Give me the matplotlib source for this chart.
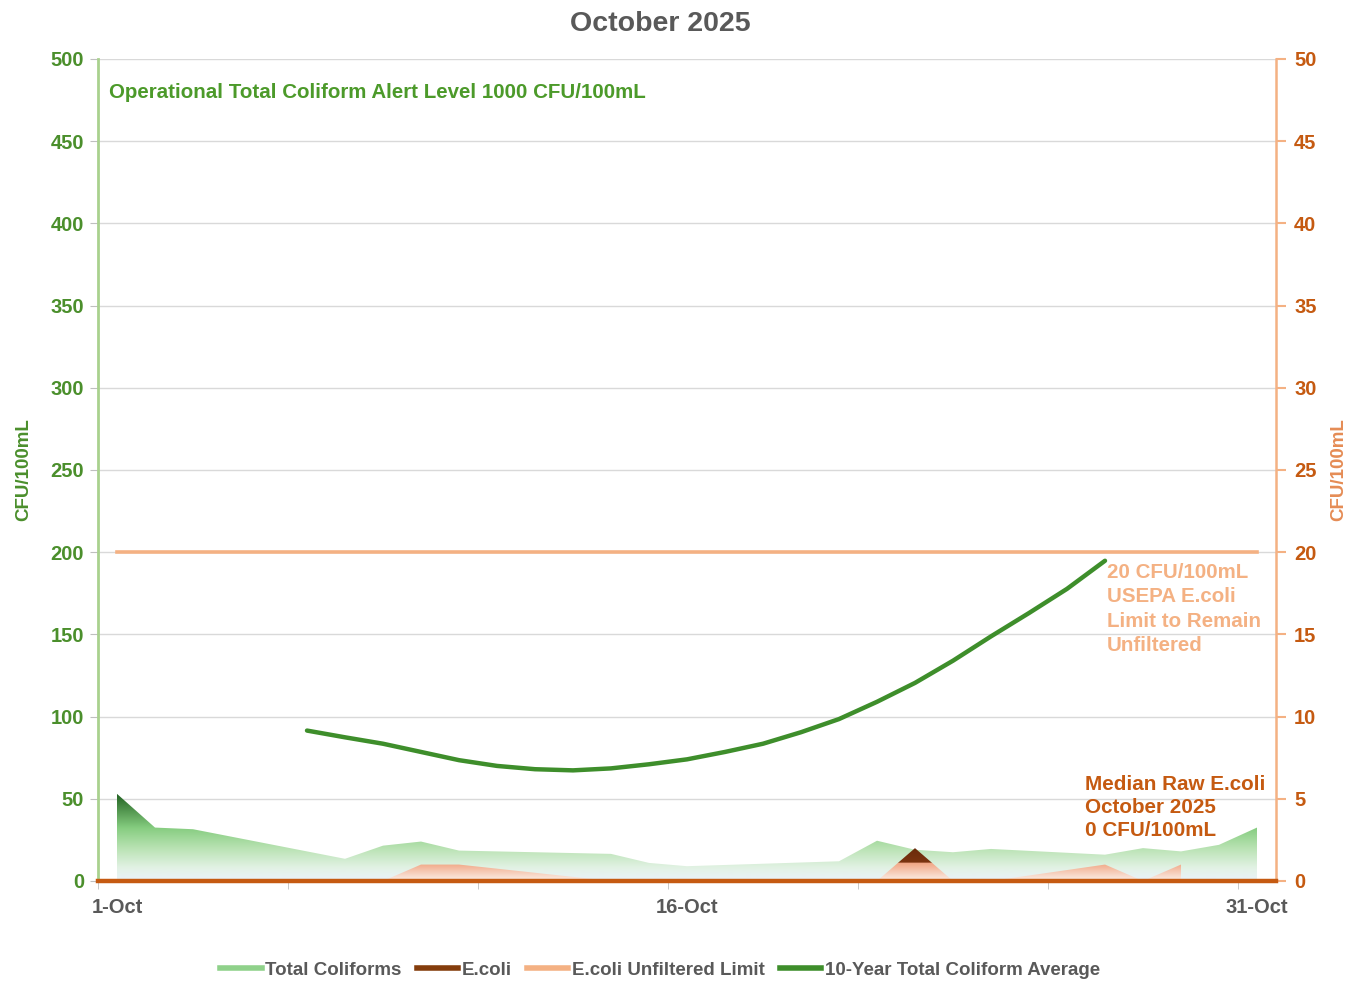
import numpy as np
import matplotlib
matplotlib.use("Agg")
import matplotlib.pyplot as plt
from matplotlib.colors import LinearSegmentedColormap
from matplotlib.path import Path
from matplotlib.lines import Line2D

plt.rcParams['font.family'] = ['Liberation Sans', 'DejaVu Sans']
plt.rcParams['font.weight'] = 'bold'
plt.rcParams['axes.labelweight'] = 'bold'

# Sample days (October 2025) and results
sample_days = [1, 2, 3, 7, 8, 9, 10, 14, 15, 16, 20, 21, 22, 23, 24, 27, 28, 29, 30, 31]
total_coliforms = [53, 32.5, 31.5, 13.5, 21.5, 24, 18.5, 16.5, 11, 9,
                   12, 24.5, 19, 17.5, 19.5, 16, 20, 18, 22, 32.5]
ecoli = [0, 0, 0, 0, 0, 1, 1, 0, 0, 0,
         0, 0, 2, 0, 0, 1, 0, 1, np.nan, np.nan]

# E.coli unfiltered limit (CFU/100mL)
limit_days = list(range(1, 32))
ecoli_limit = [20] * len(limit_days)

# 10-year total coliform average
avg_days = list(range(6, 28))
avg_10yr = [91.5, 87.4, 83.5, 78.5, 73.5, 70, 68, 67.3, 68.5, 71, 74,
            78.5, 83.5, 90.5, 98.5, 109, 120.5, 134, 148.8, 163, 177.7, 194.8]

x_tick_days = [1, 16, 31]
x_tick_labels = ['1-Oct', '16-Oct', '31-Oct']

GREEN_TXT = '#4b8f2c'
ORANGE_TXT = '#c55a11'
SALMON = '#f4b183'
GRAY = '#595959'


def gradient_area(ax, x, y, stops, top, z):
    coll = ax.fill_between(x, 0, y, facecolor='none', edgecolor='none')
    path = Path.make_compound_path(*coll.get_paths())
    cmap = LinearSegmentedColormap.from_list('grad', stops)
    grad = np.linspace(0, 1, 512).reshape(-1, 1)
    im = ax.imshow(grad, cmap=cmap, aspect='auto', origin='lower',
                   extent=[0.5, 31.5, 0, top], zorder=z, interpolation='bilinear')
    im.set_clip_path(path, transform=ax.transData)
    return im


fig = plt.figure(figsize=(13.57, 9.81), dpi=100)
ax = fig.add_axes([98 / 1357, 1 - 881 / 981, (1276 - 98) / 1357, (881 - 59) / 981])
ax2 = ax.twinx()

# total coliforms (left axis), gradient fill
tc_top = max(total_coliforms)
gradient_area(ax, sample_days, total_coliforms,
              [(0, '#eaf2fb'), (8 / tc_top, '#e2f2e4'), (20 / tc_top, '#b8e2b2'),
               (32 / tc_top, '#86cd80'), (1, '#1f5f1f')], tc_top, 2)

# 10-year average
ax.plot(avg_days, avg_10yr, color='#3e8e2b', lw=3.2, solid_capstyle='round', zorder=4)

# E.coli (right axis)
gradient_area(ax2, sample_days, ecoli,
              [(0, '#fbf1ea'), (0.5, '#f2ac8c'), (0.55, '#f0a586'),
               (0.56, '#7b3410'), (1, '#6a2b0b')], 2, 3)
ax2.plot(limit_days, ecoli_limit, color=SALMON, lw=2.6, zorder=4)

ax.set_xlim(0.5, 31.5)
ax.set_ylim(0, 500)
ax2.set_ylim(0, 50)
ax.set_yticks(np.arange(0, 501, 50))
ax2.set_yticks(np.arange(0, 51, 5))
ax.set_xticks(x_tick_days)
ax.set_xticklabels(x_tick_labels)
ax.set_xticks(np.arange(0.5, 31.6, 5), minor=True)

ax.grid(axis='y', color='#d9d9d9', lw=1)
ax.set_axisbelow(True)

ax.spines['top'].set_visible(False)
ax2.spines['top'].set_visible(False)
ax.spines['left'].set_color('#a9d18e')
ax.spines['left'].set_linewidth(2)
ax2.spines['left'].set_visible(False)
ax.spines['right'].set_visible(False)
ax2.spines['right'].set_color(SALMON)
ax2.spines['right'].set_linewidth(1.8)
ax2.spines['bottom'].set_color(ORANGE_TXT)
ax2.spines['bottom'].set_linewidth(3.2)
ax2.spines['bottom'].set_zorder(5)
ax.spines['bottom'].set_visible(False)

ax.tick_params(axis='y', colors='#bfbfbf', labelcolor=GREEN_TXT, labelsize=14.5, length=6, pad=4)
ax2.tick_params(axis='y', colors=SALMON, labelcolor=ORANGE_TXT, labelsize=14.5, length=7, width=1.5, pad=6)
ax.tick_params(axis='x', which='major', length=0, labelcolor=GRAY, labelsize=14.5, pad=12)
ax.tick_params(axis='x', which='minor', length=6, color='#bfbfbf')

ax.set_ylabel('CFU/100mL', color=GREEN_TXT, fontsize=13.5, fontweight='bold', labelpad=13)
ax2.set_ylabel('CFU/100mL', color='#e58c55', fontsize=13.5, fontweight='bold',
               rotation=90, labelpad=10)

fig.text(660 / 1357, 1 - 24 / 981, 'October 2025', ha='center', va='center',
         fontsize=20.5, color=GRAY, fontweight='bold')

fig.text(109 / 1357, 1 - 92 / 981, 'Operational Total Coliform Alert Level 1000 CFU/100mL',
         fontsize=14.8, color='#4c9a2a', va='center', fontweight='bold')
fig.text(1107 / 1357, 1 - 563 / 981, '20 CFU/100mL\nUSEPA E.coli\nLimit to Remain\nUnfiltered',
         fontsize=14.8, color=SALMON, va='top', ha='left', linespacing=1.36, fontweight='bold')
fig.text(1085 / 1357, 1 - 775 / 981, 'Median Raw E.coli\nOctober 2025\n0 CFU/100mL',
         fontsize=14.9, color=ORANGE_TXT, va='top', ha='left', linespacing=1.25, fontweight='bold')

handles = [Line2D([], [], color='#8fd18a', lw=4),
           Line2D([], [], color='#843c0c', lw=4),
           Line2D([], [], color=SALMON, lw=4),
           Line2D([], [], color='#3e8e2b', lw=4)]
labels = ['Total Coliforms', 'E.coli', 'E.coli Unfiltered Limit', '10-Year Total Coliform Average']
fig.legend(handles, labels, loc='center', bbox_to_anchor=(660 / 1357, 1 - 970 / 981),
           ncol=4, frameon=False, handlelength=2.2, handletextpad=0.2,
           columnspacing=0.8, labelcolor=GRAY, prop={'size': 13.5, 'weight': 'bold'})

fig.savefig('out.png', dpi=100)
